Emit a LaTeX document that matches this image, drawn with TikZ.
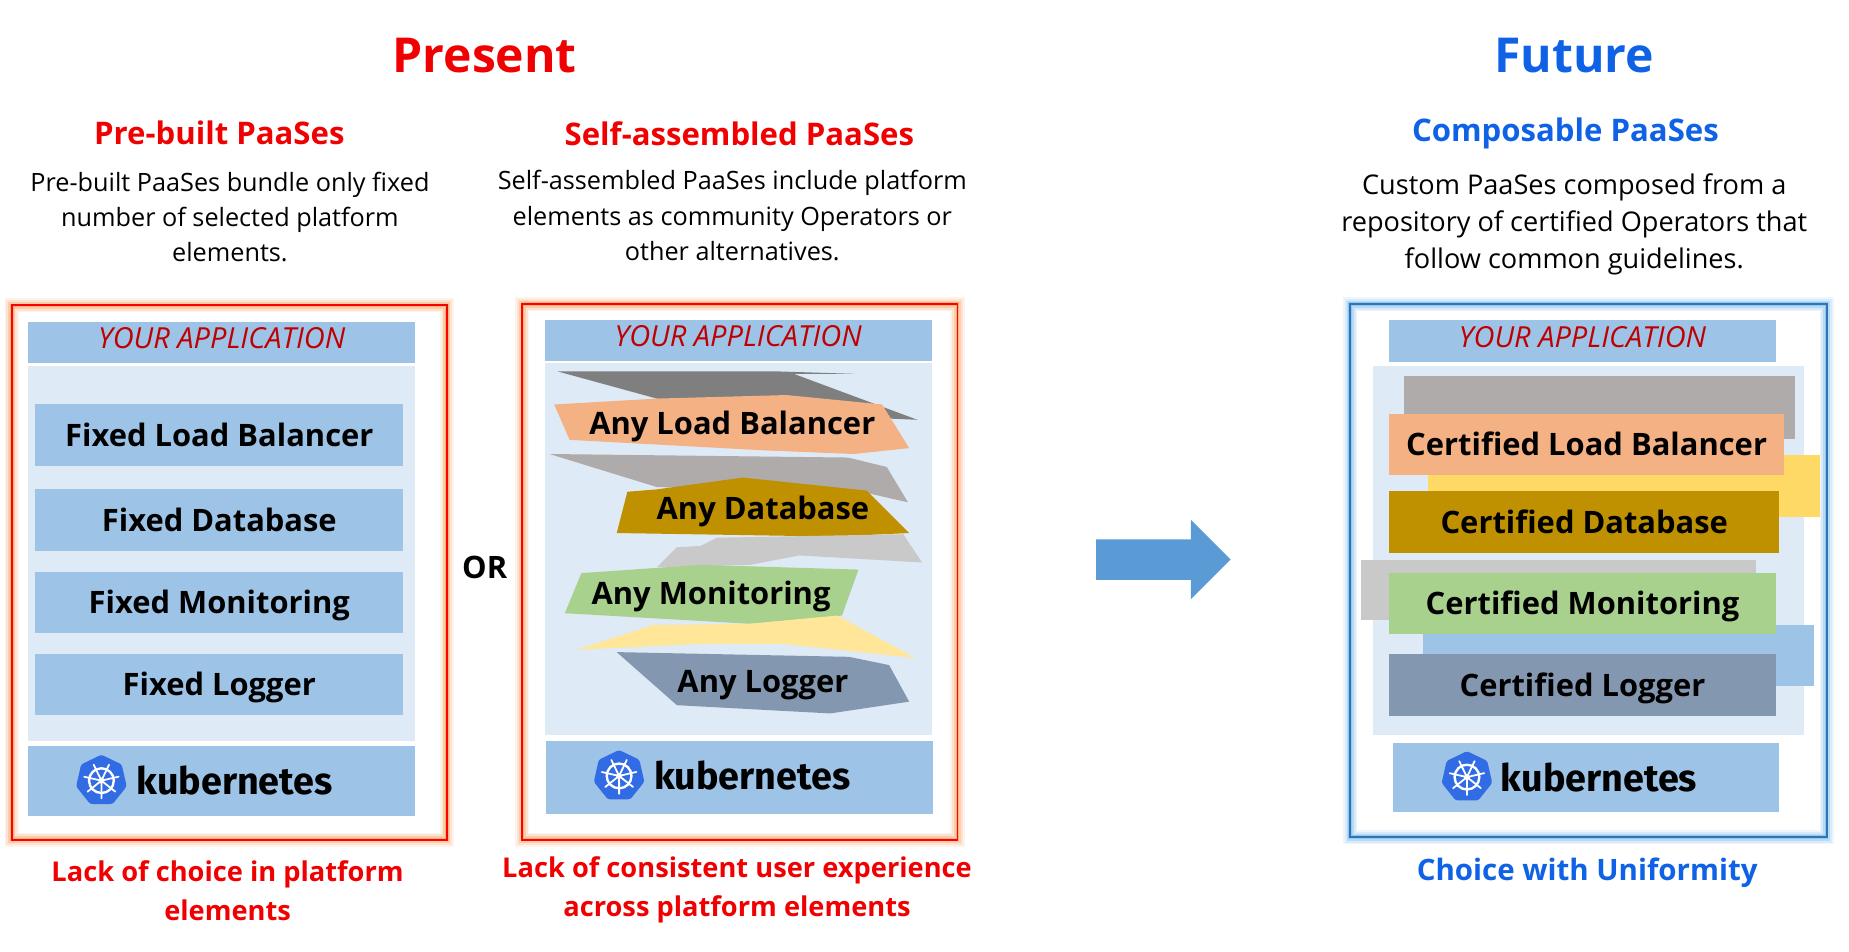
\documentclass[tikz,border=0pt]{standalone}
\usepackage{fontspec}
\setmainfont{Open Sans}
\newfontfamily\kubefont{Fira Sans}
\usetikzlibrary{shapes,arrows,calc}
\definecolor{barblue}{HTML}{9DC3E6}
\definecolor{paleblue}{HTML}{DEEAF6}
\definecolor{lbcolor}{HTML}{F4B183}
\definecolor{dbcolor}{HTML}{BF9000}
\definecolor{moncolor}{HTML}{A9D18E}
\definecolor{logcolor}{HTML}{8497B0}
\definecolor{ybright}{HTML}{FFD966}
\definecolor{ypale}{HTML}{FFE699}
\definecolor{gdark}{HTML}{7F7F7F}
\definecolor{gmid}{HTML}{AFABAB}
\definecolor{glight}{HTML}{C9C9C9}
\definecolor{apptext}{HTML}{C00000}
\definecolor{presentred}{HTML}{F00000}
\definecolor{futureblue}{HTML}{0F62E6}
\definecolor{frameblue}{HTML}{2E75B6}
\definecolor{kubeblue}{HTML}{326CE5}
\definecolor{arrowblue}{HTML}{5B9BD5}
\definecolor{gloworange}{HTML}{F58A3C}
\definecolor{glowblue}{HTML}{5BA8E8}
\tikzstyle{frame} = [rectangle, fill=white, inner sep=0pt, outer sep=0pt]
\tikzstyle{panel} = [rectangle, inner sep=0pt, outer sep=0pt, text=black, text height=19pt, text depth=0pt,
    font=\fontsize{26.2}{30}\selectfont\bfseries]
\tikzstyle{bar} = [panel, fill=barblue, minimum width=328pt]
\tikzstyle{appbar} = [bar, text=apptext, text height=17.6pt, text depth=7pt, font=\fontsize{24.6}{26}\selectfont\itshape]
\tikzstyle{back} = [panel, fill=paleblue]
\tikzstyle{fixedbox} = [panel, fill=barblue, minimum width=312pt, minimum height=52pt]
\tikzstyle{blob} = [draw=none]
\tikzstyle{tag} = [panel]
\tikzstyle{title} = [font=\fontsize{40.8}{46}\selectfont\bfseries]
\tikzstyle{subtitle} = [font=\fontsize{26.4}{30}\selectfont\bfseries]
\tikzstyle{body} = [align=center, font=\fontsize{21.4}{30}\selectfont]
\tikzstyle{verdict} = [align=center, font=\fontsize{23.1}{33.5}\selectfont\bfseries]
\tikzstyle{kubeword} = [font=\fontsize{32}{36}\kubefont\bfseries\selectfont, text=black, inner sep=0pt]
\newcommand{\kubelogo}[2]{
    \node [regular polygon, regular polygon sides=7, fill=kubeblue, minimum size=44pt,
        inner sep=0pt, rounded corners=2pt] (#2) at (#1) {};
    \begin{scope}[shift={(#2.center)}, white]
        \draw [line width=2pt] (0,0) circle (10.5);
        \fill (0,0) circle (2.5);
        \foreach \spoke in {90,141.4,...,450}
            \draw [line width=1.5pt, line cap=round] (0,0) -- (\spoke:15);
    \end{scope}
}

\begin{document}
\begin{tikzpicture}[x=1pt, y=-1pt, node distance=70pt]
    \useasboundingbox (0,0) rectangle (1568,806.5);
    % Headings
    \node [title, text=presentred] (present) at (411,47) {Present};
    \node [title, text=futureblue] (future) at (1335,47) {Future};
    \node [subtitle, text=presentred] (prebuilt) at (186,113) {Pre-built PaaSes};
    \node [subtitle, text=presentred] (selfbuilt) at (627,113) {Self-assembled PaaSes};
    \node [subtitle, text=futureblue] (composable) at (1327.5,113) {Composable PaaSes};
    \node [body] (prebuilttext) at (195,184) {Pre-built PaaSes bundle only fixed\\number of selected platform\\elements.};
    \node [body] (selfbuilttext) at (621,183) {Self-assembled PaaSes include platform\\elements as community Operators or\\other alternatives.};
    \node [body, font=\fontsize{23}{31.5}\selectfont] (composabletext) at (1335,190) {Custom PaaSes composed from a\\repository of certified Operators that\\follow common guidelines.};
    % Frames
    \node [frame, minimum width=369pt, minimum height=453pt] (frameL) at (194.5,485.5) {};
    \node [frame, minimum width=369pt, minimum height=454pt] (frameM) at (627.5,485) {};
    \node [frame, minimum width=404pt, minimum height=452pt] (frameR) at (1347,484) {};
    \foreach \f/\c/\g in {frameL/red/gloworange, frameM/red/gloworange, frameR/frameblue/glowblue}{
        \foreach \w/\o in {12/.10, 9/.15, 6/.25, 3/.35}
            \draw [line width=\w pt, \g, opacity=\o] (\f.north west) rectangle (\f.south east);
        \draw [line width=1.6pt, \c] (\f.north west) rectangle (\f.south east);
    }
    % Pre-built column
    \node [back, minimum width=328pt, minimum height=318pt] (backL) at (188,469) {};
    \node [appbar, minimum height=35pt] (appL) at (188,290.5) {YOUR APPLICATION};
    \node [fixedbox] (fixedLb) at (186,369) {Fixed Load Balancer};
    \node [fixedbox, below of=fixedLb, node distance=72pt] (fixedDb) {Fixed Database};
    \node [fixedbox, below of=fixedDb] (fixedMon) {Fixed Monitoring};
    \node [fixedbox, below of=fixedMon, node distance=69.5pt] (fixedLog) {Fixed Logger};
    \node [bar, minimum height=59pt] (kubeL) at (188,662.5) {};
    \kubelogo{86,662}{logoL}
    \node [kubeword, right of=logoL, node distance=113pt] (wordL) {kubernetes};
    \node [panel] (orword) at (411,481) {OR};
    % Self-assembled column
    \node [back, minimum width=328pt, minimum height=315pt] (backM) at (626,465.5) {};
    \node [appbar, minimum height=35pt] (appM) at (626,288.5) {YOUR APPLICATION};
    \fill [blob, gdark] (473,315) -- (661,315) -- (724,317) -- (673,317) -- (778,356) -- (755,355) -- (557,338) -- cycle;
    \fill [blob, lbcolor] (470,343) -- (557,338) -- (667,335) -- (748,343) -- (771,380) -- (724,385) -- (650,382) -- (483,373) -- cycle;
    \fill [blob, gmid] (466,385) -- (719,388) -- (752,396) -- (770,426) -- (735,418) -- (557,413) -- cycle;
    \fill [blob, dbcolor] (532,417) -- (557,415) -- (630,405) -- (735,416) -- (771,452) -- (707,455) -- (523,452) -- cycle;
    \fill [blob, glight] (557,481) -- (574,464) -- (594,463) -- (608,456) -- (766,453) -- (782,477) -- (678,471) -- (636,479) -- cycle;
    \fill [blob, moncolor] (493,486) -- (594,479) -- (728,483) -- (714,522) -- (636,529) -- (479,520) -- cycle;
    \fill [blob, ypale] (489,551) -- (554,530) -- (636,529) -- (710,522) -- (776,558) -- (664,546) -- (594,546) -- cycle;
    \fill [blob, logcolor] (523,553) -- (720,557) -- (754,564) -- (771,595) -- (704,605) -- (574,598) -- cycle;
    \node [tag] (anyLb) at (621,359) {Any Load Balancer};
    \node [tag] (anyDb) at (647,431) {Any Database};
    \node [tag] (anyMon) at (603,503) {Any Monitoring};
    \node [tag] (anyLog) at (647,578) {Any Logger};
    \node [bar, minimum height=62pt] (kubeM) at (627,659) {};
    \kubelogo{525,658}{logoM}
    \node [kubeword, right of=logoM, node distance=113pt] (wordM) {kubernetes};
    % Big arrow
    \node [single arrow, fill=arrowblue, inner xsep=0pt, inner ysep=17pt, minimum height=114pt,
        single arrow head extend=16.5pt, single arrow tip angle=90] (bigarrow) at (978,474.5) {};
    % Composable column
    \node [back, minimum width=366pt, minimum height=313pt] (backR) at (1347,466.5) {};
    \node [appbar, minimum height=36pt] (appR) at (1342,289) {YOUR APPLICATION};
    \node [panel, fill=gmid, minimum width=331pt, minimum height=53pt] (shadeLb) at (1356.5,345.5) {};
    \node [panel, fill=ybright, minimum width=332pt, minimum height=52pt] (shadeDb) at (1377,412) {};
    \node [panel, fill=glight, minimum width=335pt, minimum height=51pt] (shadeMon) at (1321.5,500.5) {};
    \node [panel, fill=barblue, minimum width=331pt, minimum height=52pt] (shadeLog) at (1372.5,556) {};
    \node [panel, fill=lbcolor, minimum width=335pt, minimum height=52pt] (certLb) at (1345.5,377) {Certified Load Balancer};
    \node [panel, fill=dbcolor, minimum width=331pt, minimum height=53pt] (certDb) at (1343.5,442.5) {Certified Database};
    \node [panel, fill=moncolor, minimum width=328pt, minimum height=52pt] (certMon) at (1342,512) {Certified Monitoring};
    \node [panel, fill=logcolor, minimum width=328pt, minimum height=52pt] (certLog) at (1342,581) {Certified Logger};
    \node [bar, minimum height=59pt] (kubeR) at (1345,659.5) {};
    \kubelogo{1244,659}{logoR}
    \node [kubeword, right of=logoR, node distance=112pt] (wordR) {kubernetes};
    % Verdicts
    \node [verdict, text=presentred] (verdictL) at (193,755.5) {Lack of choice in platform\\elements};
    \node [verdict, text=presentred] (verdictM) at (625,754.5) {Lack of consistent user experience\\across platform elements};
    \node [verdict, text=futureblue, font=\fontsize{25}{30}\selectfont\bfseries] (verdictR) at (1346,740) {Choice with Uniformity};
\end{tikzpicture}
\end{document}
